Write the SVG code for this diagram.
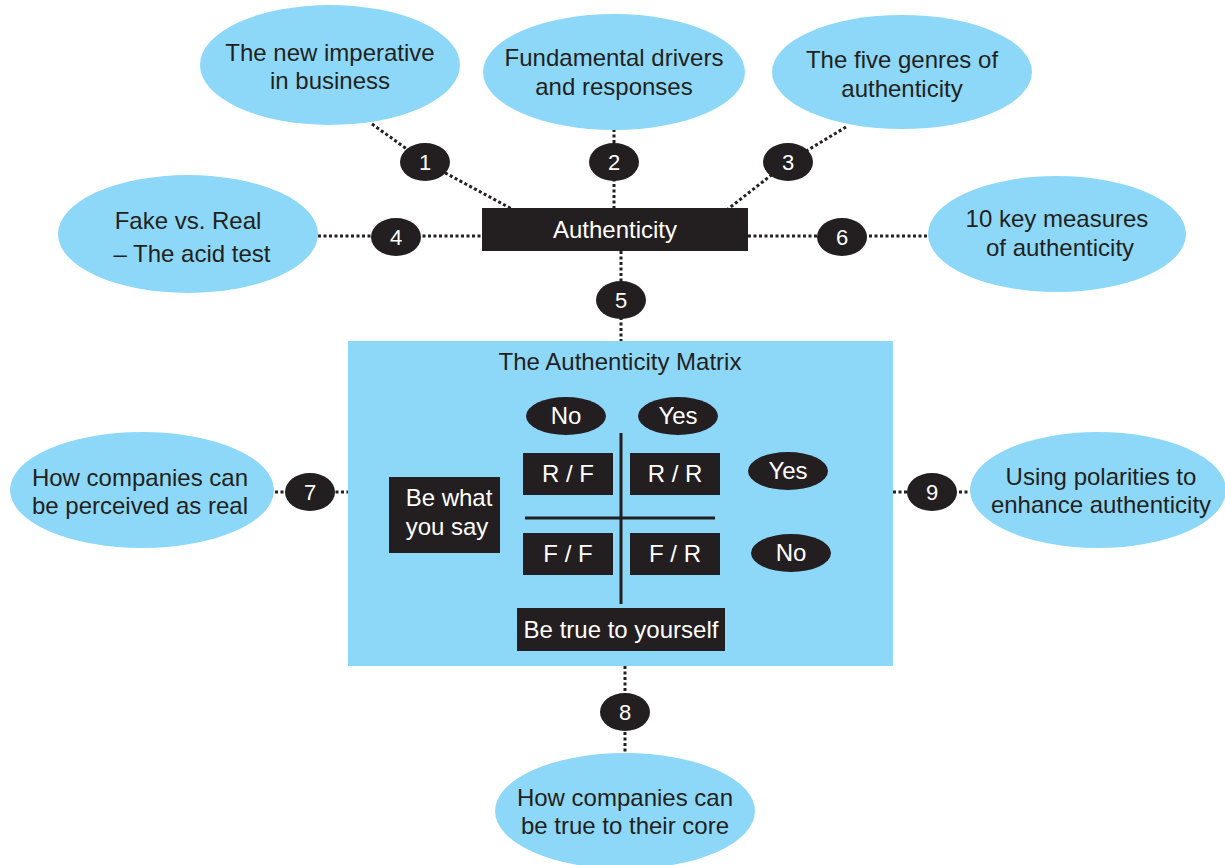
<svg xmlns="http://www.w3.org/2000/svg" width="1225" height="865" viewBox="0 0 1225 865">
<style>
.topic{fill:#8DD8F8}
.dark{fill:#231F20}
.t{font-family:"Liberation Sans",Arial,sans-serif;font-size:24px;fill:#231F20;text-anchor:middle}
.w{font-family:"Liberation Sans",Arial,sans-serif;font-size:24px;fill:#FFFFFF;text-anchor:middle}
.n{font-family:"Liberation Sans",Arial,sans-serif;font-size:22px;fill:#FFFFFF;text-anchor:middle}
.dot{stroke:#231F20;stroke-width:3;stroke-dasharray:3 2.5;fill:none}
.axis{stroke:#231F20;stroke-width:3;fill:none}
</style>
<rect width="1225" height="865" fill="#FFFFFF"/>
<g id="connectors">
<polyline class="dot" points="372,124 425,162 512,209"/>
<line class="dot" x1="614" y1="129" x2="614" y2="208"/>
<polyline class="dot" points="846,127 788,162 728,209"/>
<line class="dot" x1="318" y1="236" x2="482" y2="236"/>
<line class="dot" x1="748" y1="236" x2="928" y2="236"/>
<line class="dot" x1="621" y1="251" x2="621" y2="341"/>
<line class="dot" x1="275" y1="492" x2="348" y2="492"/>
<line class="dot" x1="893" y1="492" x2="970" y2="492"/>
<line class="dot" x1="625" y1="666" x2="625" y2="752"/>
</g>
<g id="node-imperative">
<ellipse class="topic" cx="330" cy="65" rx="130" ry="60"/>
<text class="t" x="330" y="61">The new imperative</text>
<text class="t" x="330" y="89">in business</text>
</g>
<g id="node-drivers">
<ellipse class="topic" cx="614" cy="72" rx="131" ry="58"/>
<text class="t" x="614" y="66">Fundamental drivers</text>
<text class="t" x="614" y="95">and responses</text>
</g>
<g id="node-genres">
<ellipse class="topic" cx="902" cy="72" rx="130" ry="57"/>
<text class="t" x="902" y="68">The five genres of</text>
<text class="t" x="902" y="97">authenticity</text>
</g>
<g id="node-fake">
<ellipse class="topic" cx="188" cy="234" rx="130" ry="59"/>
<text class="t" x="188" y="229">Fake vs. Real</text>
<text class="t" x="192" y="262">– The acid test</text>
</g>
<g id="node-measures">
<ellipse class="topic" cx="1057" cy="234" rx="129" ry="58"/>
<text class="t" x="1057" y="227">10 key measures</text>
<text class="t" x="1060" y="256">of authenticity</text>
</g>
<g id="node-perceived">
<ellipse class="topic" cx="142" cy="490" rx="132" ry="58"/>
<text class="t" x="140" y="486">How companies can</text>
<text class="t" x="140" y="514">be perceived as real</text>
</g>
<g id="node-polarities">
<ellipse class="topic" cx="1098" cy="490" rx="128" ry="58"/>
<text class="t" x="1101" y="485">Using polarities to</text>
<text class="t" x="1101" y="513">enhance authenticity</text>
</g>
<g id="node-core">
<ellipse class="topic" cx="625" cy="811" rx="130" ry="58"/>
<text class="t" x="625" y="806">How companies can</text>
<text class="t" x="625" y="834">be true to their core</text>
</g>
<g id="node-authenticity">
<rect class="dark" x="482" y="208" width="266" height="43"/>
<text class="w" x="615" y="238">Authenticity</text>
</g>
<g id="badges">
<g id="badge-1"><ellipse class="dark" cx="425" cy="162" rx="25" ry="19"/><text class="n" x="425" y="170">1</text></g>
<g id="badge-2"><ellipse class="dark" cx="614" cy="162" rx="25" ry="19"/><text class="n" x="614" y="170">2</text></g>
<g id="badge-3"><ellipse class="dark" cx="788" cy="162" rx="25" ry="19"/><text class="n" x="788" y="170">3</text></g>
<g id="badge-4"><ellipse class="dark" cx="396" cy="237" rx="25" ry="19"/><text class="n" x="396" y="245">4</text></g>
<g id="badge-5"><ellipse class="dark" cx="621" cy="300" rx="25" ry="19"/><text class="n" x="621" y="308">5</text></g>
<g id="badge-6"><ellipse class="dark" cx="842" cy="237" rx="25" ry="19"/><text class="n" x="842" y="245">6</text></g>
<g id="badge-7"><ellipse class="dark" cx="310" cy="492" rx="25" ry="19"/><text class="n" x="310" y="500">7</text></g>
<g id="badge-8"><ellipse class="dark" cx="625" cy="712" rx="25" ry="19"/><text class="n" x="625" y="720">8</text></g>
<g id="badge-9"><ellipse class="dark" cx="932" cy="492" rx="25" ry="19"/><text class="n" x="932" y="500">9</text></g>
</g>
<g id="node-matrix">
<rect class="topic" x="348" y="341" width="545" height="325"/>
<text class="t" x="620" y="370">The Authenticity Matrix</text>
<ellipse class="dark" cx="566" cy="416" rx="40" ry="19"/>
<text class="w" x="566" y="424">No</text>
<ellipse class="dark" cx="678" cy="416" rx="40" ry="19"/>
<text class="w" x="678" y="424">Yes</text>
<ellipse class="dark" cx="788" cy="471" rx="40" ry="19"/>
<text class="w" x="788" y="479">Yes</text>
<ellipse class="dark" cx="791" cy="553" rx="40" ry="19"/>
<text class="w" x="791" y="561">No</text>
<line class="axis" x1="621" y1="433" x2="621" y2="604"/>
<line class="axis" x1="525" y1="518" x2="715" y2="518"/>
<rect class="dark" x="523" y="453" width="90" height="42"/>
<text class="w" x="568" y="482">R / F</text>
<rect class="dark" x="630" y="453" width="90" height="42"/>
<text class="w" x="675" y="482">R / R</text>
<rect class="dark" x="523" y="533" width="90" height="42"/>
<text class="w" x="568" y="562">F / F</text>
<rect class="dark" x="630" y="533" width="90" height="42"/>
<text class="w" x="675" y="562">F / R</text>
<rect class="dark" x="389" y="477" width="111" height="76"/>
<text class="w" x="449" y="506">Be what</text>
<text class="w" x="447" y="535">you say</text>
<rect class="dark" x="517" y="608" width="208" height="43"/>
<text class="w" x="621" y="638">Be true to yourself</text>
</g>
</svg>
